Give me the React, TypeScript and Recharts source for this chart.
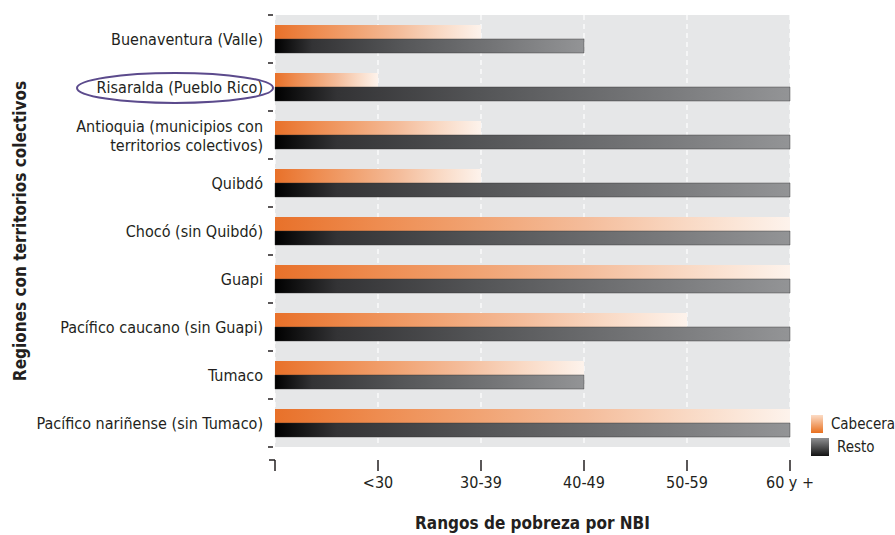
import * as React from "react";
import {
  BarChart,
  Bar,
  XAxis,
  YAxis,
  CartesianGrid,
  Legend,
} from "recharts";

const regions = [
  "Buenaventura (Valle)",
  "Risaralda (Pueblo Rico)",
  "Antioquia (municipios con\nterritorios colectivos)",
  "Quibdó",
  "Chocó (sin Quibdó)",
  "Guapi",
  "Pacífico caucano (sin Guapi)",
  "Tumaco",
  "Pacífico nariñense (sin Tumaco)",
];

// position on the range scale: 1 = <30 ... 5 = 60 y +
const cabecera = [2, 1, 2, 2, 5, 5, 4, 3, 5];
const resto = [3, 5, 5, 5, 5, 5, 5, 3, 5];

const rangeTicks = [0, 1, 2, 3, 4, 5];
const rangeLabels = ["", "<30", "30-39", "40-49", "50-59", "60 y +"];

const highlighted = "Risaralda (Pueblo Rico)";

const FONT = "'DejaVu Sans Condensed', 'Liberation Sans Narrow', sans-serif";
const INK = "#231f20";

const chartData = regions.map((name, i) => ({
  name,
  cabecera: cabecera[i],
  resto: resto[i],
}));

function RegionTick(props: any) {
  const { x, y, payload, index } = props;
  const lines = String(payload.value).split("\n");
  const lineH = 19;
  const y0 = y - ((lines.length - 1) * lineH) / 2;
  const last = index === regions.length - 1;
  return (
    <g>
      <line x1={x + 1} x2={x + 6} y1={y - 24} y2={y - 24} stroke={INK} strokeWidth={1.5} />
      {last && (
        <line x1={x + 1} x2={x + 6} y1={y + 24} y2={y + 24} stroke={INK} strokeWidth={1.5} />
      )}
      <text
        x={x - 4}
        y={y0}
        textAnchor="end"
        dominantBaseline="central"
        fontFamily={FONT}
        fontSize={16}
        fill={INK}
      >
        {lines.map((l, k) => (
          <tspan key={k} x={x - 4} dy={k === 0 ? 0 : lineH}>
            {l}
          </tspan>
        ))}
      </text>
      {payload.value === highlighted && (
        <ellipse
          cx={x - 92}
          cy={y + 1}
          rx={98}
          ry={15}
          fill="none"
          stroke="#5b4a8c"
          strokeWidth={2}
        />
      )}
    </g>
  );
}

function RangeTick(props: any) {
  const { x, y, payload, index } = props;
  return (
    <g>
      {index === 0 && (
        <line x1={x - 6} x2={x} y1={y + 5} y2={y + 5} stroke={INK} strokeWidth={1.5} />
      )}
      <line x1={x} x2={x} y1={y + 5} y2={y + 16} stroke={INK} strokeWidth={1.5} />
      <text
        x={x}
        y={y + 33}
        textAnchor="middle"
        fontFamily={FONT}
        fontSize={16}
        fill={INK}
      >
        {rangeLabels[index] ?? payload.value}
      </text>
    </g>
  );
}

function LegendBox() {
  const items = [
    { label: "Cabecera", top: "#fcdcc6", bottom: "#e8701f", id: "lgC" },
    { label: "Resto", top: "#8f9092", bottom: "#121212", id: "lgR" },
  ];
  return (
    <div style={{ fontFamily: FONT, fontSize: 15, color: INK }}>
      {items.map((it) => (
        <div key={it.id} style={{ display: "flex", alignItems: "center", height: 23 }}>
          <svg width={18} height={18} style={{ marginRight: 8 }}>
            <defs>
              <linearGradient id={it.id} x1="0" y1="0" x2="0" y2="1">
                <stop offset="0%" stopColor={it.top} />
                <stop offset="100%" stopColor={it.bottom} />
              </linearGradient>
            </defs>
            <rect width={18} height={18} fill={`url(#${it.id})`} />
          </svg>
          <span style={{ whiteSpace: "nowrap" }}>{it.label}</span>
        </div>
      ))}
    </div>
  );
}

export default function App() {
  return (
    <div style={{ position: "absolute", left: 0, top: 0, background: "#fff" }}>
      <BarChart
        width={895}
        height={535}
        data={chartData}
        layout="vertical"
        margin={{ top: 15, right: 105, left: 0, bottom: 0 }}
        barGap={0}
      >
        <defs>
          <linearGradient id="gradCab" x1="0" y1="0" x2="1" y2="0">
            <stop offset="0%" stopColor="#e8712a" />
            <stop offset="20%" stopColor="#ee8c50" />
            <stop offset="40%" stopColor="#f1a474" />
            <stop offset="60%" stopColor="#f4bc9a" />
            <stop offset="80%" stopColor="#f9d9c4" />
            <stop offset="100%" stopColor="#fdf3ec" />
          </linearGradient>
          <linearGradient id="gradResto" x1="0" y1="0" x2="1" y2="0">
            <stop offset="0%" stopColor="#000000" />
            <stop offset="12%" stopColor="#333335" />
            <stop offset="40%" stopColor="#545557" />
            <stop offset="70%" stopColor="#737476" />
            <stop offset="100%" stopColor="#939496" />
          </linearGradient>
        </defs>
        <CartesianGrid
          horizontal={false}
          fill="#e6e7e8"
          stroke="#ffffff"
          strokeDasharray="5 4"
          strokeWidth={1.2}
        />
        <XAxis
          type="number"
          domain={[0, 5]}
          ticks={rangeTicks}
          axisLine={false}
          tickLine={false}
          tick={<RangeTick />}
          height={88}
          interval={0}
          label={{
            value: "Rangos de pobreza por NBI",
            position: "insideBottom",
            offset: 6,
            style: { fontFamily: FONT, fontSize: 17, fontWeight: 700, fill: INK },
          }}
        />
        <YAxis
          type="category"
          dataKey="name"
          width={275}
          axisLine={false}
          tickLine={false}
          tick={<RegionTick />}
          interval={0}
          label={{
            content: (p: any) => {
              const vb = p.viewBox || {};
              const cx = (vb.x ?? 0) + 20;
              const cy = (vb.y ?? 0) + (vb.height ?? 0) / 2;
              return (
                <text
                  x={cx}
                  y={cy}
                  transform={`rotate(-90, ${cx}, ${cy})`}
                  textAnchor="middle"
                  dominantBaseline="central"
                  fontFamily={FONT}
                  fontSize={17}
                  fontWeight={700}
                  fill={INK}
                >
                  Regiones con territorios colectivos
                </text>
              );
            },
          }}
        />
        <Legend
          layout="vertical"
          align="center"
          verticalAlign="middle"
          content={<LegendBox />}
          wrapperStyle={{ left: 811, top: 412, width: 84, overflow: "hidden" }}
        />
        <Bar
          dataKey="cabecera"
          name="Cabecera"
          fill="url(#gradCab)"
          barSize={14}
          isAnimationActive={false}
        />
        <Bar
          dataKey="resto"
          name="Resto"
          fill="url(#gradResto)"
          stroke="#2e2e2f"
          strokeWidth={0.5}
          strokeOpacity={0.8}
          barSize={14}
          isAnimationActive={false}
        />
      </BarChart>
    </div>
  );
}
